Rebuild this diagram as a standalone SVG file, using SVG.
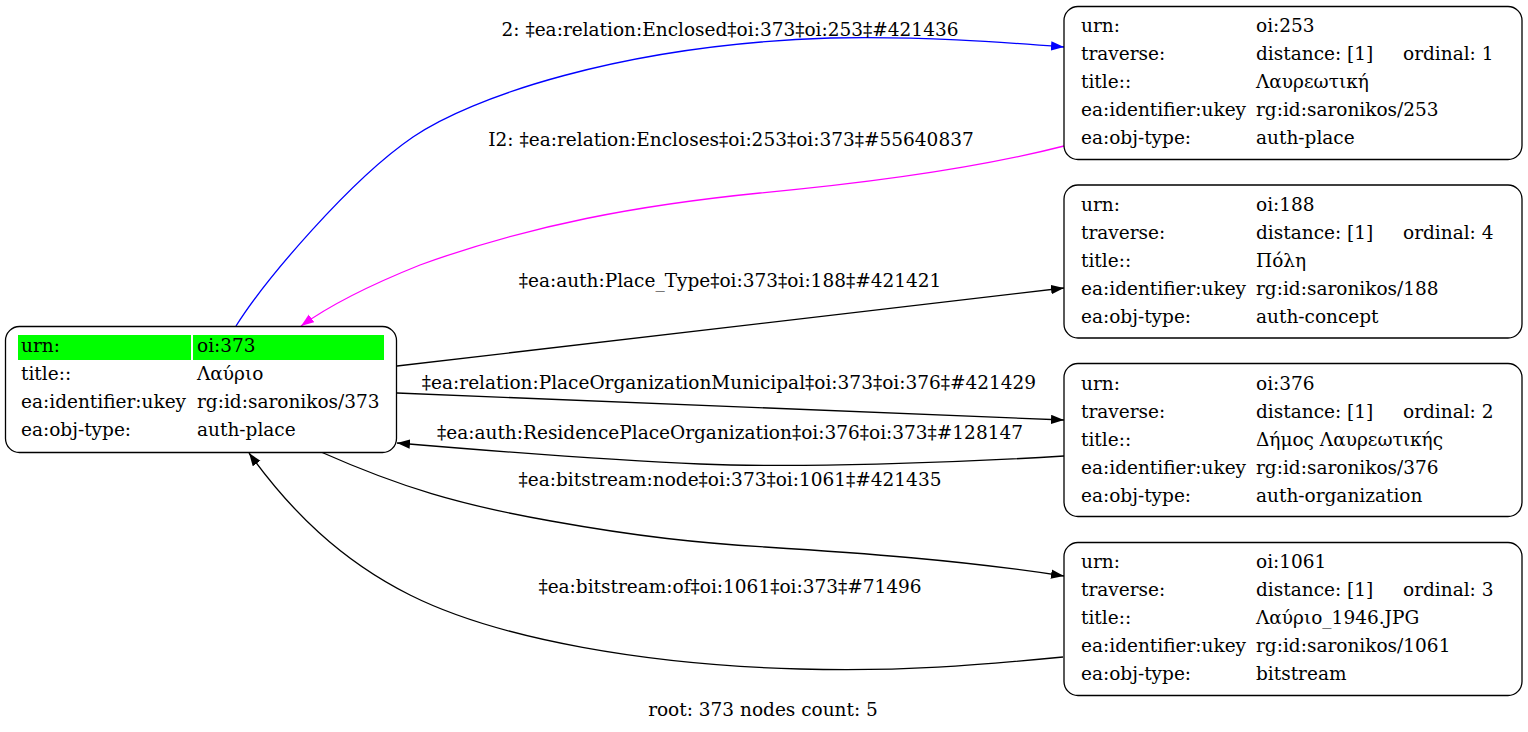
<svg xmlns="http://www.w3.org/2000/svg" width="1528" height="732" viewBox="0 0 1528 732">
<style>
text{font-family:"DejaVu Serif","Liberation Serif",serif;font-size:18.5px;fill:#000}
.lbl{text-anchor:middle}
.box{fill:#fff;stroke:#000;stroke-width:1.3}
.e{fill:none;stroke-width:1.3}
</style>
<defs>
<marker id="ak" markerUnits="userSpaceOnUse" markerWidth="14" markerHeight="10" refX="13" refY="4.7" orient="auto"><path d="M0,0 L13,4.7 L0,9.4 z" fill="#000"/></marker>
<marker id="ab" markerUnits="userSpaceOnUse" markerWidth="14" markerHeight="10" refX="13" refY="4.7" orient="auto"><path d="M0,0 L13,4.7 L0,9.4 z" fill="#00f"/></marker>
<marker id="am" markerUnits="userSpaceOnUse" markerWidth="14" markerHeight="10" refX="13" refY="4.7" orient="auto"><path d="M0,0 L13,4.7 L0,9.4 z" fill="#f0f"/></marker>
</defs>
<rect width="1528" height="732" fill="#fff"/>
<g id="connectors">
<path class="e" stroke="#00f" marker-end="url(#ab)" d="M236,326 C265,280 350,180 413,137 C470,98 620,45 830,38 C920,36 1000,42 1064,47"/>
<text class="lbl" x="730" y="36">2: ‡ea:relation:Enclosed‡oi:373‡oi:253‡#421436</text>
<path class="e" stroke="#f0f" marker-end="url(#am)" d="M1064,146 C990,165 900,180 760,193 C640,205 530,225 420,265 C370,285 330,305 301,326"/>
<text class="lbl" x="731" y="146">I2: ‡ea:relation:Encloses‡oi:253‡oi:373‡#55640837</text>
<path class="e" stroke="#000" marker-end="url(#ak)" d="M397,366 L1064,288"/>
<text class="lbl" x="730" y="287">‡ea:auth:Place_Type‡oi:373‡oi:188‡#421421</text>
<path class="e" stroke="#000" marker-end="url(#ak)" d="M397,393 L1064,420"/>
<text class="lbl" x="729" y="389">‡ea:relation:PlaceOrganizationMunicipal‡oi:373‡oi:376‡#421429</text>
<path class="e" stroke="#000" marker-end="url(#ak)" d="M1064,456 C950,463 800,468 700,464 C600,460 480,450 397,443"/>
<text class="lbl" x="730" y="439">‡ea:auth:ResidencePlaceOrganization‡oi:376‡oi:373‡#128147</text>
<path class="e" stroke="#000" marker-end="url(#ak)" d="M321,452 C400,487 460,505 551,521 C640,537 700,543 765,547 C860,553 960,560 1064,576"/>
<text class="lbl" x="730" y="486">‡ea:bitstream:node‡oi:373‡oi:1061‡#421435</text>
<path class="e" stroke="#000" marker-end="url(#ak)" d="M1063,657 C980,665 900,672 800,669 C650,665 500,640 410,595 C340,560 290,510 249,453"/>
<text class="lbl" x="730" y="593">‡ea:bitstream:of‡oi:1061‡oi:373‡#71496</text>
</g>
<g id="node373">
<rect class="box" x="5.5" y="326.5" width="391" height="126" rx="14"/>
<rect x="18" y="335" width="173" height="25" fill="#0f0"/>
<rect x="193" y="335" width="191" height="25" fill="#0f0"/>
<text x="21" y="352">urn:</text><text x="197" y="352">oi:373</text>
<text x="21" y="380">title::</text><text x="197" y="380">Λαύριο</text>
<text x="21" y="408">ea:identifier:ukey</text><text x="197" y="408">rg:id:saronikos/373</text>
<text x="21" y="436">ea:obj-type:</text><text x="197" y="436">auth-place</text>
</g>
<g id="node253">
<rect class="box" x="1064" y="6.5" width="458" height="153" rx="14"/>
<text x="1081" y="32">urn:</text><text x="1256" y="32">oi:253</text>
<text x="1081" y="60">traverse:</text><text x="1256" y="60">distance: [1]</text><text x="1403" y="60">ordinal: 1</text>
<text x="1081" y="88">title::</text><text x="1256" y="88">Λαυρεωτική</text>
<text x="1081" y="116">ea:identifier:ukey</text><text x="1256" y="116">rg:id:saronikos/253</text>
<text x="1081" y="144">ea:obj-type:</text><text x="1256" y="144">auth-place</text>
</g>
<g id="node188">
<rect class="box" x="1064" y="185" width="458" height="153" rx="14"/>
<text x="1081" y="211">urn:</text><text x="1256" y="211">oi:188</text>
<text x="1081" y="239">traverse:</text><text x="1256" y="239">distance: [1]</text><text x="1403" y="239">ordinal: 4</text>
<text x="1081" y="267">title::</text><text x="1256" y="267">Πόλη</text>
<text x="1081" y="295">ea:identifier:ukey</text><text x="1256" y="295">rg:id:saronikos/188</text>
<text x="1081" y="323">ea:obj-type:</text><text x="1256" y="323">auth-concept</text>
</g>
<g id="node376">
<rect class="box" x="1064" y="363.5" width="458" height="153" rx="14"/>
<text x="1081" y="390">urn:</text><text x="1256" y="390">oi:376</text>
<text x="1081" y="418">traverse:</text><text x="1256" y="418">distance: [1]</text><text x="1403" y="418">ordinal: 2</text>
<text x="1081" y="446">title::</text><text x="1256" y="446">Δήμος Λαυρεωτικής</text>
<text x="1081" y="474">ea:identifier:ukey</text><text x="1256" y="474">rg:id:saronikos/376</text>
<text x="1081" y="502">ea:obj-type:</text><text x="1256" y="502">auth-organization</text>
</g>
<g id="node1061">
<rect class="box" x="1064" y="542.5" width="458" height="153" rx="14"/>
<text x="1081" y="568">urn:</text><text x="1256" y="568">oi:1061</text>
<text x="1081" y="596">traverse:</text><text x="1256" y="596">distance: [1]</text><text x="1403" y="596">ordinal: 3</text>
<text x="1081" y="624">title::</text><text x="1256" y="624">Λαύριο_1946.JPG</text>
<text x="1081" y="652">ea:identifier:ukey</text><text x="1256" y="652">rg:id:saronikos/1061</text>
<text x="1081" y="680">ea:obj-type:</text><text x="1256" y="680">bitstream</text>
</g>
<text class="lbl" x="763" y="716">root: 373 nodes count: 5</text>
</svg>
